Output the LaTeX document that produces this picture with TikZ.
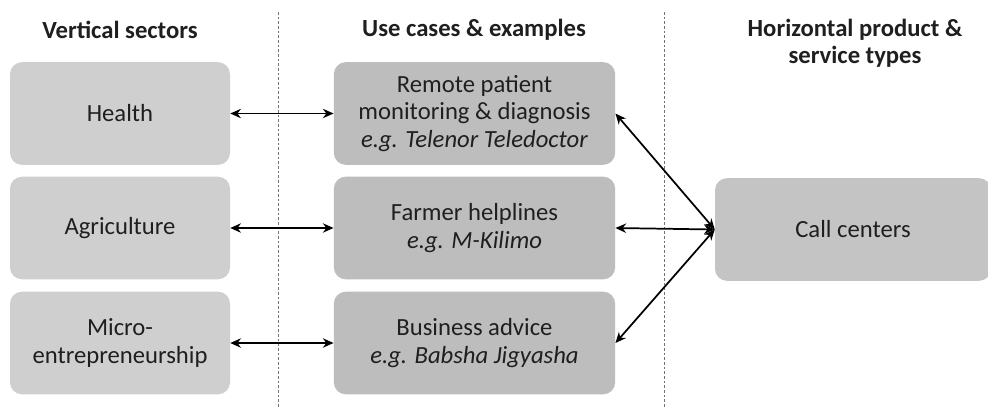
\documentclass[tikz,border=0pt]{standalone}
\usepackage{fontspec}
\setmainfont{Carlito}
\usetikzlibrary{arrows.meta}
\begin{document}
\begin{tikzpicture}[x=0.75pt,y=-0.75pt,
  base/.style={rounded corners=9pt, draw=none, align=center, font=\fontsize{18.5}{20.6}\selectfont, text=black!88, inner sep=0pt},
  leftbox/.style={base, fill=black!19, minimum width=165pt, minimum height=77pt},
  midbox/.style={base, fill=black!26, minimum width=211pt, minimum height=77pt},
  rightbox/.style={base, fill=black!23, minimum width=207pt, minimum height=77pt},
  head/.style={font=\fontsize{18.5}{20}\selectfont\bfseries, text=black!88, align=center},
  sep/.style={draw=black!55, dash pattern=on 2pt off 1.5pt, line width=0.6pt},
  link/.style={{Stealth[length=8pt,width=7pt]}-{Stealth[length=8pt,width=7pt]}, line width=1.3pt}
]
\useasboundingbox (0,0) rectangle (988,408);
\fill[white] (0,0) rectangle (988,408);

\coordinate (s1t) at (278,12); \coordinate (s1b) at (278,408);
\coordinate (s2t) at (664,12); \coordinate (s2b) at (664,408);
\draw[sep] (s1t) -- (s1b);
\draw[sep] (s2t) -- (s2b);

\node[head] (h1) at (120,30) {Vertical sectors};
\node[head] (h2) at (474,30) {Use cases \& examples};
\node[head] (h3) at (855,43) {Horizontal product \&\\service types};

\node[leftbox] (l1) at (120,113.5) {Health};
\node[leftbox] (l2) at (120,228) {Agriculture};
\node[leftbox] (l3) at (120,343) {Micro-\\entrepreneurship};

\node[midbox] (m1) at (474.5,113.5) {Remote patient\\monitoring \& diagnosis\\\textit{e.g. Telenor Teledoctor}};
\node[midbox] (m2) at (474.5,228) {Farmer helplines\\\textit{e.g. M-Kilimo}};
\node[midbox] (m3) at (474.5,343) {Business advice\\\textit{e.g. Babsha Jigyasha}};

\node[rightbox] (r) at (853,229.5) {Call centers};

\draw[link] (l1.east) -- (m1.west);
\draw[link] (l2.east) -- (m2.west);
\draw[link] (l3.east) -- (m3.west);

\draw[link] (r.west) -- (m1.east);
\draw[link] (r.west) -- (m2.east);
\draw[link] (r.west) -- (m3.east);
\end{tikzpicture}
\end{document}
